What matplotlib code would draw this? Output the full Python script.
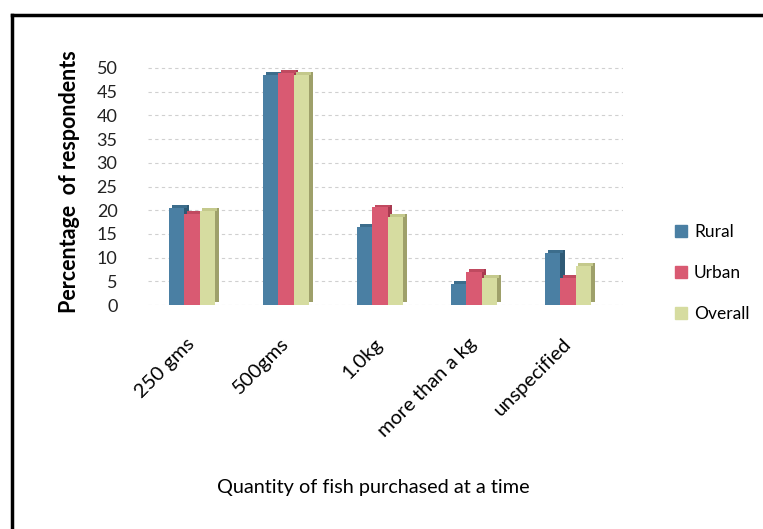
import numpy as np
import matplotlib.pyplot as plt
from matplotlib.patches import Rectangle
from matplotlib.lines import Line2D

plt.rcParams["font.family"] = ["Lato", "DejaVu Sans"]

categories = ["250 gms", "500gms", "1.0kg", "more than a kg", "unspecified"]
series = ["Rural", "Urban", "Overall"]
rural = [20.5, 48.5, 16.5, 4.5, 11.0]
urban = [19.3, 49.0, 20.6, 6.9, 5.8]
overall = [19.8, 48.5, 18.6, 5.8, 8.3]
yticks = list(range(0, 55, 5))

FRONT = ["#4a7fa3", "#d95a72", "#d6dca0"]
SIDE = ["#2f5a75", "#a83a50", "#9ea06a"]
TOP = ["#3c6d8c", "#c04a60", "#c4c98c"]

fig = plt.figure(figsize=(7.63, 5.29), dpi=100, facecolor="white")
ax = fig.add_axes([0.194, 0.4234, 0.6225, 0.466])

x = np.arange(len(categories))
w = 0.16
depth = 0.045
for i, vals in enumerate([rural, urban, overall]):
    xs = x + (i - 1) * w
    # side face for a faux 3D look
    ax.bar(xs + w / 2 + depth / 2, vals, width=depth, color=SIDE[i],
           bottom=0.6, zorder=2 + i * 0.1, linewidth=0)
    ax.bar(xs, vals, width=w, color=FRONT[i], zorder=3 + i * 0.1,
           linewidth=0, label=series[i])
    ax.bar(xs + depth / 2, [0.6] * len(vals), bottom=vals, width=w,
           color=TOP[i], zorder=2.5 + i * 0.1, linewidth=0)

ax.set_xlim(-0.468, 4.585)
ax.set_ylim(0, 52)
ax.set_yticks(yticks)
ax.tick_params(axis="y", labelsize=13, length=0, pad=22, labelcolor="#222222")
ax.tick_params(axis="x", length=0, labelsize=14.5, pad=26)
ax.set_xticks(x)
ax.set_xticklabels(categories, rotation=45, ha="right", va="center",
                   rotation_mode="anchor")
ax.grid(axis="y", color="#d0d0d0", linestyle=(0, (3, 3)), linewidth=0.8)
ax.set_axisbelow(True)
for s in ["top", "right", "bottom", "left"]:
    ax.spines[s].set_visible(False)

ax.set_ylabel("Percentage  of respondents", fontsize=15.5, fontweight="bold",
              labelpad=12)
fig.text(0.489, 0.079, "Quantity of fish purchased at a time", ha="center",
         va="center", fontsize=14.3)

handles = [Rectangle((0, 0), 1, 1, color=c) for c in FRONT]
fig.legend(handles, series, loc="center left", bbox_to_anchor=(0.864, 0.484),
           frameon=False, fontsize=12.5, handlelength=0.7, handleheight=0.7,
           labelspacing=1.45, handletextpad=0.4)

# frame: only left and top edges show in the scan
fig.add_artist(Line2D([0.0157, 0.0157], [0.0, 0.9716], transform=fig.transFigure,
                      color="black", linewidth=2.5))
fig.add_artist(Line2D([0.0157, 1.0], [0.9716, 0.9716], transform=fig.transFigure,
                      color="black", linewidth=2.5))

fig.savefig("out.png", dpi=100, facecolor="white")
